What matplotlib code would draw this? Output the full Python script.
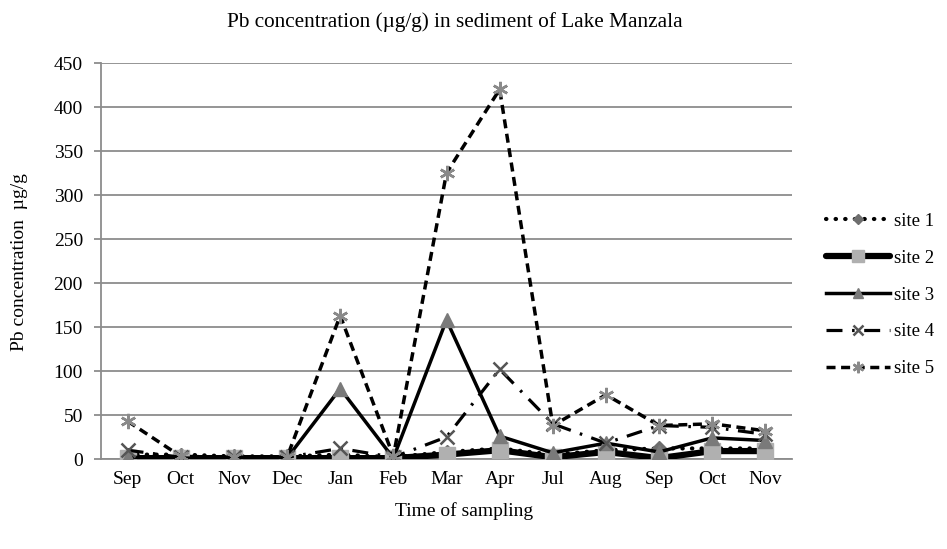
import matplotlib
matplotlib.use("Agg")
import matplotlib.pyplot as plt
import numpy as np

months = ["Sep", "Oct", "Nov", "Dec", "Jan", "Feb", "Mar", "Apr", "Jul", "Aug", "Sep", "Oct", "Nov"]
site1 = [5, 5, 3, 3, 5, 2, 8, 12, 5, 10, 12, 12, 12]
site2 = [1, 1, 1, 1, 1, 1, 5, 10, 2, 8, 1, 9, 9]
site3 = [2, 1, 1, 1, 80, 1, 158, 26, 7, 18, 8, 24, 21]
site4 = [10, 2, 2, 2, 12, 2, 25, 102, 40, 18, 38, 36, 28]
site5 = [43, 3, 2, 2, 163, 3, 325, 420, 38, 73, 38, 40, 32]
yticks = [0, 50, 100, 150, 200, 250, 300, 350, 400, 450]

plt.rcParams['font.family'] = ['Liberation Serif', 'DejaVu Serif']

fig = plt.figure(figsize=(9.47, 5.49), dpi=100)
ax = fig.add_axes([101/947, 1-459/549, (792-101)/947, (459-63)/549])

x = np.arange(len(months))
ax.plot(x, site1, color='black', lw=3, linestyle=(0, (0.1, 2.2)), dash_capstyle='round',
        marker='D', ms=7, mfc='#6e6e6e', mec='#6e6e6e', label='site 1', zorder=3)
ax.plot(x, site2, color='black', lw=4.5, linestyle='-', solid_capstyle='round',
        marker='s', ms=12, mfc='#b0b0b0', mec='#b0b0b0', label='site 2', zorder=4)
ax.plot(x, site3, color='black', lw=2.5, linestyle='-',
        marker='^', ms=10, mfc='#7a7a7a', mec='#7a7a7a', label='site 3', zorder=5)
ax.plot(x, site4, color='black', lw=2.3, linestyle=(0, (5, 3, 0.8, 3)),
        marker='x', ms=10, mew=1.8, mfc='#555555', mec='#555555', label='site 4', zorder=6)
ax.plot(x, site5, color='black', lw=2.5, linestyle=(0, (2.6, 1.6)),
        marker=(6, 2, 0), ms=11, mew=1.8, mfc='#8a8a8a', mec='#8a8a8a', label='site 5', zorder=7)

ax.set_xlim(-0.5, len(months) - 0.5)
ax.set_ylim(0, 450)
ax.set_yticks(yticks)
ax.set_xticks(x)
ax.set_xticklabels(months)
ax.yaxis.grid(True, color='#8c8c8c', lw=1.3)
ax.set_axisbelow(True)
for s in ['top', 'right']:
    ax.spines[s].set_visible(False)
ax.spines['left'].set_color('#8c8c8c')
ax.spines['left'].set_linewidth(1.3)
ax.spines['bottom'].set_color('#8c8c8c')
ax.spines['bottom'].set_linewidth(1.3)
ax.tick_params(axis='y', length=5, color='#8c8c8c', width=1.3, labelsize=14, pad=8)
ax.tick_params(axis='x', length=0, labelsize=14, pad=9)

fig.text(455/947, 1-22/549, "Pb concentration (µg/g) in sediment of Lake Manzala",
         ha='center', va='center', fontsize=15.3)
fig.text(464/947, 1-511/549, "Time of sampling", ha='center', va='center', fontsize=14)
fig.text(20/947, 1-262/549, "Pb concentration  µg/g", rotation=90, ha='center', va='center', fontsize=14)

leg = fig.legend(loc='center left', bbox_to_anchor=(826/947, 1-295/549), frameon=False,
                 fontsize=13.5, handlelength=3.4, labelspacing=1.05, handletextpad=0.25,
                 borderpad=0, borderaxespad=0, markerscale=0.75)

fig.savefig("out.png", dpi=100)
